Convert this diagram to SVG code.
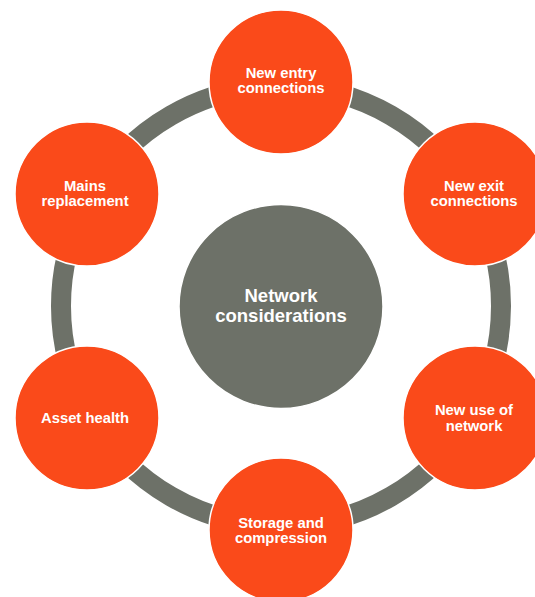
<svg xmlns="http://www.w3.org/2000/svg" width="535" height="597" viewBox="0 0 535 597">
<style>
.ring{fill:none;stroke:#6D7168;stroke-width:20}
.node{fill:#FA4A1A;stroke:#FFFFFF;stroke-width:1.5}
.hub{fill:#6D7168;stroke:#FFFFFF;stroke-width:1.5}
text{font-family:"Liberation Sans",Arial,sans-serif;font-weight:bold;fill:#FFFFFF;text-anchor:middle}
.t{font-size:14.8px}
.c{font-size:18.5px}
</style>
<rect width="535" height="597" fill="#FFFFFF"/>
<g id="connectors">
<path class="ring" d="M281 86 A220 220 0 0 1 471.53 196"/>
<path class="ring" d="M471.53 196 A220 220 0 0 1 471.53 416"/>
<path class="ring" d="M471.53 416 A220 220 0 0 1 281 526"/>
<path class="ring" d="M281 526 A220 220 0 0 1 90.47 416"/>
<path class="ring" d="M90.47 416 A220 220 0 0 1 90.47 196"/>
<path class="ring" d="M90.47 196 A220 220 0 0 1 281 86"/>
</g>
<g id="hub">
<circle class="hub" cx="281" cy="306.5" r="102"/>
<text class="c" x="281" y="301.5">Network</text>
<text class="c" x="281" y="321.5">considerations</text>
</g>
<g id="new-entry">
<circle class="node" cx="281" cy="82" r="72"/>
<text class="t" x="281" y="78">New entry</text>
<text class="t" x="281" y="93">connections</text>
</g>
<g id="new-exit">
<circle class="node" cx="475" cy="194" r="72"/>
<text class="t" x="474" y="191">New exit</text>
<text class="t" x="474" y="206">connections</text>
</g>
<g id="new-use">
<circle class="node" cx="475" cy="418" r="72"/>
<text class="t" x="474" y="415">New use of</text>
<text class="t" x="474" y="430.5">network</text>
</g>
<g id="storage">
<circle class="node" cx="281" cy="530" r="72"/>
<text class="t" x="281" y="528">Storage and</text>
<text class="t" x="281" y="542.5">compression</text>
</g>
<g id="asset-health">
<circle class="node" cx="87" cy="418" r="72"/>
<text class="t" x="85" y="423">Asset health</text>
</g>
<g id="mains">
<circle class="node" cx="87" cy="194" r="72"/>
<text class="t" x="85" y="191">Mains</text>
<text class="t" x="85" y="205.5">replacement</text>
</g>
</svg>
